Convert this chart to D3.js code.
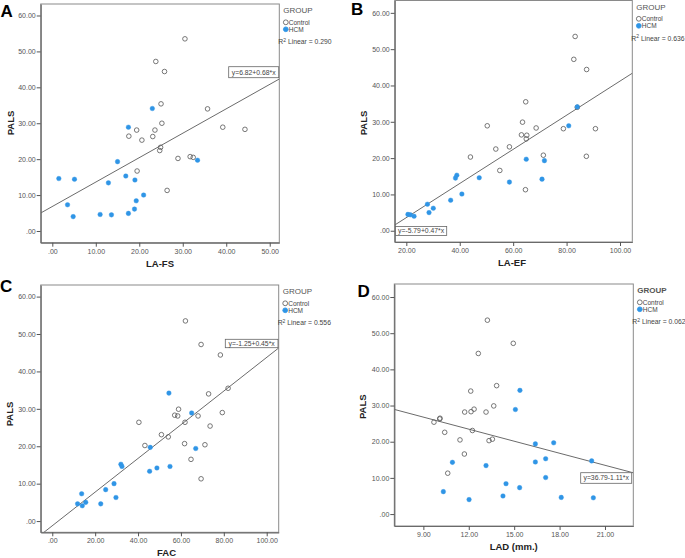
<!DOCTYPE html>
<html><head><meta charset="utf-8">
<script src="https://cdn.jsdelivr.net/npm/d3@7"></script>
<style>
html,body{margin:0;padding:0;background:#fff;}
svg{display:block;font-family:"Liberation Sans",Arial,sans-serif;}
</style></head>
<body>
<svg id="chart" width="685" height="558"></svg>
<script>
// ---------- DATA ----------
const yTickValues = [0, 10, 20, 30, 40, 50, 60];
const xTicksA = [0, 10, 20, 30, 40, 50];
const xTicksB = [20, 40, 60, 80, 100];
const xTicksC = [0, 20, 40, 60, 80, 100];
const xTicksD = [9, 12, 15, 18, 21];
const groups = ["Control", "HCM"];

// Panel A: LA-FS vs PALS
const controlA_x = [30.5,23.8,25.8,25.0,35.7,25.2,39.2,44.3,19.4,23.6,17.6,23.1,20.6,24.9,24.7,28.9,31.7,32.4,19.5,26.4];
const controlA_y = [53.5,47.2,44.4,35.4,34.0,30.0,28.9,28.3,28.1,28.1,26.4,26.3,25.3,23.3,22.4,20.2,20.7,20.5,16.7,11.3];
const hcmA_x = [23.0,17.5,15.0,33.4,1.5,5.1,16.9,12.9,19.0,21.0,19.3,3.5,18.9,17.5,11.0,13.6,4.8];
const hcmA_y = [34.1,28.9,19.3,19.7,14.6,14.4,15.3,13.4,14.2,10.0,8.4,7.3,6.1,4.9,4.6,4.5,4.0];

// Panel B: LA-EF vs PALS
const controlB_x = [83.2,82.7,87.5,64.7,84.0,63.5,50.3,68.6,78.8,90.8,63.1,65.1,64.9,58.6,53.5,44.0,71.3,87.4,55.0,64.6];
const controlB_y = [53.5,47.2,44.4,35.5,34.0,29.9,28.9,28.3,28.1,28.1,26.4,26.3,25.3,23.1,22.5,20.3,20.8,20.5,16.6,11.3];
const hcmB_x = [84.0,80.8,64.9,71.7,38.9,38.4,47.3,58.6,70.8,40.8,36.6,27.9,30.1,28.5,20.6,21.5,22.9];
const hcmB_y = [34.1,28.9,19.7,19.3,15.3,14.5,14.6,13.4,14.2,10.1,8.4,7.3,6.2,5.0,4.5,4.4,4.0];

// Panel C: FAC vs PALS
const controlC_x = [62.1,69.4,78.4,82.0,72.9,58.9,79.3,57.1,58.5,68.0,40.4,61.9,73.6,50.9,54.1,43.2,61.7,71.2,64.7,69.4];
const controlC_y = [53.5,47.2,44.4,35.5,34.0,29.9,29.0,28.3,28.1,28.1,26.4,26.4,25.4,23.1,22.5,20.2,20.7,20.4,16.5,11.3];
const hcmC_x = [54.4,65.0,45.7,66.9,32.0,32.5,54.9,48.8,45.4,28.8,24.9,13.7,29.7,15.6,11.8,22.6,14.0];
const hcmC_y = [34.2,28.9,19.7,19.4,15.2,14.6,14.6,14.2,13.3,10.0,8.4,7.3,6.3,5.0,4.6,4.6,4.1];

// Panel D: LAD (mm.) vs PALS
const controlD_x = [13.23,14.94,12.63,13.84,12.13,13.65,12.35,12.15,11.73,13.14,10.10,10.08,9.70,12.24,10.41,11.42,13.34,13.56,11.71,10.61];
const controlD_y = [53.6,47.2,44.4,35.5,34.0,29.9,29.0,28.3,28.2,28.2,26.5,26.3,25.4,23.1,22.6,20.5,20.3,20.7,16.6,11.3];
const hcmD_x = [15.38,15.08,17.61,16.40,20.12,16.40,17.08,10.92,13.14,17.08,14.46,15.36,10.32,14.26,18.11,20.23,12.02];
const hcmD_y = [34.2,28.9,19.7,19.4,14.7,14.4,15.3,14.3,13.4,10.1,8.4,7.3,6.2,5.0,4.6,4.5,4.0];

// Fit lines (intercept, slope) and labels
const fitA = [6.82, 0.68], fitB = [-5.79, 0.47], fitC = [-1.25, 0.45], fitD = [36.79, -1.11];
const eqLabels = ["y=6.82+0.68*x", "y=-5.79+0.47*x", "y=-1.25+0.45*x", "y=36.79-1.11*x"];
const r2Values = ["0.290", "0.636", "0.556", "0.062"];
const xTitles = ["LA-FS", "LA-EF", "FAC", "LAD (mm.)"];
const letters = ["A", "B", "C", "D"];

// ---------- LAYOUT ----------
const zip = (xs, ys) => xs.map((x, i) => ({x, y: ys[i]}));
const panels = [
  {frame:{l:40.7,r:279.3,t:4,b:242.7}, xDom:[-2.67,52.2], yDom:[-3.26,63.2], xTicks:xTicksA,
   control:zip(controlA_x,controlA_y), hcm:zip(hcmA_x,hcmA_y), fit:fitA,
   letterPos:[0.5,17.3], xTitlePos:[160,266.5], yTitlePos:[13.5,123], eqBox:[228.7,66.7,278.7,77.7], boldGroup:false},
  {frame:{l:394.7,r:632.3,t:0.5,b:242}, xDom:[15.65,104.6], yDom:[-3.1,63.4], xTicks:xTicksB,
   control:zip(controlB_x,controlB_y), hcm:zip(hcmB_x,hcmB_y), fit:fitB,
   letterPos:[351,14.5], xTitlePos:[512,266], yTitlePos:[366.5,123], eqBox:[395.5,226.5,446.7,235.5], boldGroup:false},
  {frame:{l:40.7,r:278.7,t:285,b:532.3}, xDom:[-5.4,105.6], yDom:[-3.0,63.1], xTicks:xTicksC,
   control:zip(controlC_x,controlC_y), hcm:zip(hcmC_x,hcmC_y), fit:fitC,
   letterPos:[0,292], xTitlePos:[166.5,556], yTitlePos:[13,414], eqBox:[225.3,339.3,278,347.7], boldGroup:false},
  {frame:{l:394.3,r:633.3,t:284,b:526}, xDom:[7.08,22.87], yDom:[-3.3,63.6], xTicks:xTicksD,
   control:zip(controlD_x,controlD_y), hcm:zip(hcmD_x,hcmD_y), fit:fitD,
   letterPos:[357.5,296.7], xTitlePos:[513.7,550], yTitlePos:[366,406.7], eqBox:[580.7,472.7,631.7,483.3], boldGroup:true}
];

const blue = "#2f95e6";
const fmt = d => d === 0 ? ".00" : d3.format(".2f")(d);
const svg = d3.select("#chart");

panels.forEach((p, i) => {
  const f = p.frame;
  const x = d3.scaleLinear().domain(p.xDom).range([f.l, f.r]);
  const y = d3.scaleLinear().domain(p.yDom).range([f.b, f.t]);
  const g = svg.append("g");

  // frame (top/right)
  g.append("rect").attr("x", f.l).attr("y", f.t).attr("width", f.r - f.l).attr("height", f.b - f.t)
    .attr("fill", "none").attr("stroke", "#8a8a8a").attr("stroke-width", 1);

  // axes
  const yAxis = d3.axisLeft(y).tickValues(yTickValues).tickFormat(fmt).tickSize(4).tickSizeOuter(0);
  const xAxis = d3.axisBottom(x).tickValues(p.xTicks).tickFormat(fmt).tickSize(4).tickSizeOuter(0);
  const ya = g.append("g").attr("transform", `translate(${f.l},0)`).call(yAxis);
  const xa = g.append("g").attr("transform", `translate(0,${f.b})`).call(xAxis);
  [ya, xa].forEach(a => {
    a.select(".domain").attr("stroke", "#6a6a6a").attr("stroke-width", 1.2);
    a.selectAll(".tick line").attr("stroke", "#555").attr("stroke-width", 1);
    a.selectAll(".tick text").attr("fill", "#555").attr("font-size", "7px")
      .attr("font-family", "'Liberation Sans',Arial,sans-serif");
  });
  ya.selectAll(".tick text").attr("x", -5);
  xa.selectAll(".tick text").attr("y", 6);

  // clip
  const cid = "clip" + i;
  svg.append("clipPath").attr("id", cid).append("rect")
    .attr("x", f.l).attr("y", f.t).attr("width", f.r - f.l).attr("height", f.b - f.t);

  // regression line
  const [a0, b0] = p.fit;
  g.append("line").attr("clip-path", `url(#${cid})`)
    .attr("x1", x(p.xDom[0])).attr("y1", y(a0 + b0 * p.xDom[0]))
    .attr("x2", x(p.xDom[1])).attr("y2", y(a0 + b0 * p.xDom[1]))
    .attr("stroke", "#6b6b6b").attr("stroke-width", 1);

  // points
  g.selectAll(".ctl").data(p.control).enter().append("circle")
    .attr("cx", d => x(d.x)).attr("cy", d => y(d.y)).attr("r", 2.3)
    .attr("fill", "none").attr("stroke", "#555").attr("stroke-width", 0.8);
  g.selectAll(".hcm").data(p.hcm).enter().append("circle")
    .attr("cx", d => x(d.x)).attr("cy", d => y(d.y)).attr("r", 2.3)
    .attr("fill", blue).attr("stroke", blue).attr("stroke-width", 0.4);

  // equation box
  const [bx0, by0, bx1, by1] = p.eqBox;
  g.append("rect").attr("x", bx0).attr("y", by0).attr("width", bx1 - bx0).attr("height", by1 - by0)
    .attr("fill", "#fff").attr("stroke", "#666").attr("stroke-width", 0.8);
  g.append("text").attr("x", (bx0 + bx1) / 2).attr("y", (by0 + by1) / 2 + 2.4)
    .attr("text-anchor", "middle").attr("font-size", "6.8px").attr("fill", "#444").text(eqLabels[i]);

  // legend
  const L = f.r, T = f.t;
  g.append("text").attr("x", L + 4).attr("y", T + 9).attr("font-size", "8px")
    .attr("font-weight", p.boldGroup ? "bold" : "normal").attr("fill", "#555").text("GROUP");
  groups.forEach((name, k) => {
    const cy = T + 18.3 + k * 7;
    g.append("circle").attr("cx", L + 6.5).attr("cy", cy).attr("r", 2.4)
      .attr("fill", k === 0 ? "#fff" : blue).attr("stroke", k === 0 ? "#555" : blue).attr("stroke-width", 0.8);
    g.append("text").attr("x", L + 9.5).attr("y", cy + 2.3).attr("font-size", "6.5px").attr("fill", "#444").text(name);
  });
  const r2 = g.append("text").attr("x", L - 1).attr("y", T + 40).attr("font-size", "6.8px").attr("fill", "#444");
  r2.append("tspan").text("R");
  r2.append("tspan").attr("dy", -2.5).attr("font-size", "5px").text("2");
  r2.append("tspan").attr("dy", 2.5).text(" Linear = " + r2Values[i]);

  // titles
  g.append("text").attr("x", p.xTitlePos[0]).attr("y", p.xTitlePos[1]).attr("text-anchor", "middle")
    .attr("font-size", "9.5px").attr("font-weight", "bold").attr("fill", "#222").text(xTitles[i]);
  g.append("text").attr("transform", `translate(${p.yTitlePos[0]},${p.yTitlePos[1]}) rotate(-90)`)
    .attr("text-anchor", "middle").attr("font-size", "9.5px").attr("font-weight", "bold").attr("fill", "#222").text("PALS");

  // panel letter
  g.append("text").attr("x", p.letterPos[0]).attr("y", p.letterPos[1])
    .attr("font-size", "17px").attr("font-weight", "bold").attr("fill", "#000").text(letters[i]);
});
</script>
</body></html>
